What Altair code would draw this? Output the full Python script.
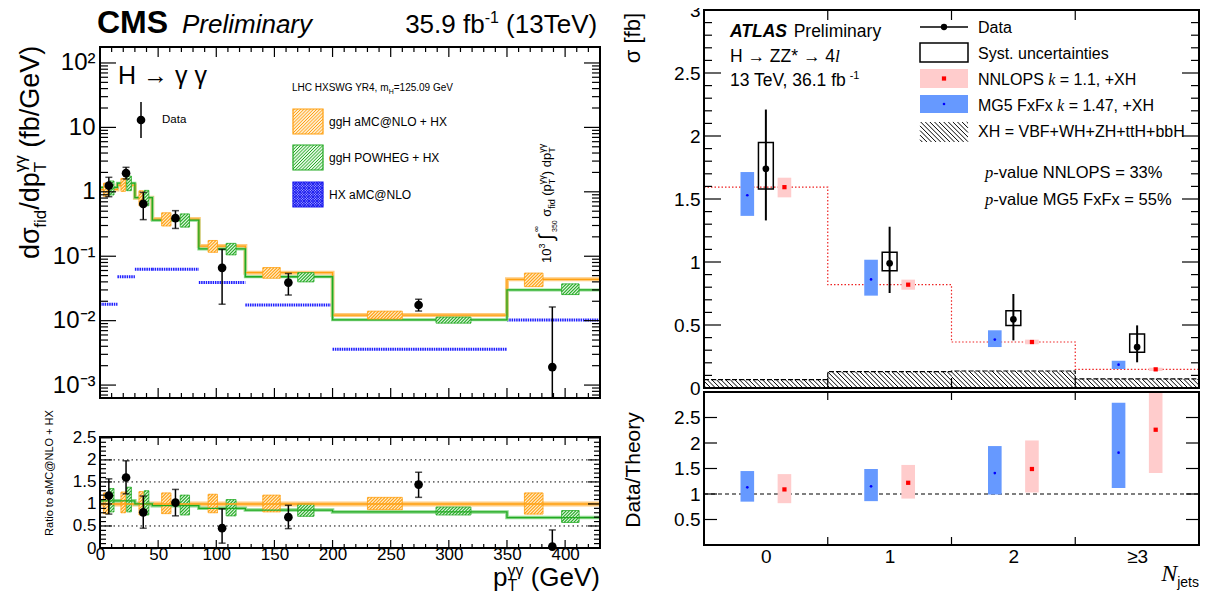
import altair as alt
import numpy as np
import pandas as pd

FONT = "Liberation Sans"
SERIF = "Liberation Serif"

# ---------------- CMS  H -> gamma gamma  (left) ----------------
cms_bin_lo = [0, 15, 30, 45, 85, 125, 200, 350]
cms_bin_hi = [15, 30, 45, 85, 125, 200, 350, 430]
cms_pt = [7.6, 22.4, 37.2, 64.9, 105, 162, 274, 389]
cms_xs = [1.25, 1.95, 0.65, 0.39, 0.066, 0.039, 0.0175, 0.0019]
cms_xs_lo = [0.84, 1.58, 0.37, 0.27, 0.018, 0.025, 0.0141, 0.0001]
cms_xs_hi = [1.68, 2.40, 0.98, 0.51, 0.128, 0.054, 0.0215, 0.0163]
cms_amc = [1.09, 1.27, 0.81, 0.378, 0.144, 0.0556, 0.0122, 0.0438]
cms_powheg = [1.17, 1.36, 0.81, 0.363, 0.130, 0.048, 0.0103, 0.030]
cms_hx = [0.0179, 0.048, 0.063, 0.063, 0.039, 0.0175, 0.0036, 0.0102]
cms_ratio = [1.19, 1.60, 0.81, 1.03, 0.45, 0.70, 1.44, 0.03]
cms_ratio_lo = [0.77, 1.23, 0.45, 0.73, 0.11, 0.44, 1.15, 0.0]
cms_ratio_hi = [1.57, 1.98, 1.18, 1.33, 0.89, 0.97, 1.72, 0.41]
cms_powheg_ratio = [1.07, 1.07, 1.00, 0.96, 0.90, 0.86, 0.82, 0.69]
cms_amc_box_x0 = [3, 18, 33.5, 53, 93, 140, 230, 365]
cms_amc_box_x1 = [7.3, 22, 37.2, 61, 101, 155, 260, 381]
cms_amc_unc_lo = [0.78, 0.80, 0.75, 0.78, 0.80, 0.82, 0.87, 0.77]
cms_amc_unc_hi = [1.25, 1.27, 1.28, 1.25, 1.22, 1.20, 1.15, 1.25]
cms_pow_box_x0 = [8, 23, 38, 69, 108.5, 170, 289, 397]
cms_pow_box_x1 = [12, 27, 42, 77, 117, 184, 319, 412]
cms_pow_unc_lo = [0.82, 0.82, 0.75, 0.75, 0.73, 0.72, 0.75, 0.58]
cms_pow_unc_hi = [1.35, 1.38, 1.30, 1.20, 1.10, 1.00, 0.93, 0.85]

cms_y_labels = [1e-3, 1e-2, 1e-1, 1, 10, 100]
cms_x_labels = [0, 50, 100, 150, 200, 250, 300, 350, 400]
cms_r_labels = [0, 0.5, 1, 1.5, 2, 2.5]
cms_r_grid = [0.5, 1.0, 1.5, 2.0]

# ---------------- ATLAS  H -> ZZ* -> 4l  (right) ----------------
atlas_nj = [0, 1, 2, 3]
atlas_edges = [-0.5, 0.5, 1.5, 2.5, 3.5]
atlas_data = [1.74, 0.99, 0.545, 0.325]
atlas_stat_lo = [1.33, 0.754, 0.378, 0.204]
atlas_stat_hi = [2.21, 1.28, 0.746, 0.497]
atlas_syst_lo = [1.58, 0.931, 0.497, 0.283]
atlas_syst_hi = [1.948, 1.077, 0.614, 0.429]
atlas_mg5 = [1.53, 0.862, 0.384, 0.185]
atlas_mg5_lo = [1.366, 0.733, 0.325, 0.151]
atlas_mg5_hi = [1.714, 1.018, 0.458, 0.217]
atlas_nnlops = [1.594, 0.82, 0.365, 0.148]
atlas_nnlops_lo = [1.513, 0.78, 0.347, 0.135]
atlas_nnlops_hi = [1.669, 0.86, 0.384, 0.161]
atlas_xh = [0.066, 0.13, 0.135, 0.072]
atlas_r_mg5 = [1.13, 1.15, 1.41, 1.81]
atlas_r_mg5_lo = [0.85, 0.86, 0.99, 1.12]
atlas_r_mg5_hi = [1.45, 1.49, 1.94, 2.79]
atlas_r_nnlops = [1.09, 1.22, 1.49, 2.26]
atlas_r_nnlops_lo = [0.82, 0.91, 1.03, 1.41]
atlas_r_nnlops_hi = [1.39, 1.57, 2.05, 3.10]
atlas_y_labels = [0, 0.5, 1, 1.5, 2, 2.5, 3]
atlas_r_labels = [0.5, 1, 1.5, 2, 2.5]
atlas_x_labels = [0, 1, 2, 3]

# ---------------- layout constants (plot-area pixels) ----------------
C_L, C_R = 0, 500
CM_T, CM_B = 37, 388
CR_T, CR_B = 427, 538
A_L, A_R = 604, 1099
AM_T, AM_B = 0, 378
AR_T, AR_B = 382, 535
CX_MAX = 430
CM_DOM = [6.3e-4, 177]
CR_MAX = 2.52
MG5_OFF, NNLO_OFF, BOX_HW, SYST_HW = -0.15, 0.15, 0.055, 0.06
HATCH = 3.2

ONE = pd.DataFrame({"a": [0]})

AW = {' ': .278, '!': .278, '%': .889, '(': .333, ')': .333, '*': .389, '+': .584, ',': .278,
      '-': .333, '.': .278, '/': .278, '=': .584, '@': 1.015, '[': .278, ']': .278,
      'A': .667, 'B': .667, 'C': .722, 'D': .722, 'E': .667, 'F': .611, 'G': .778, 'H': .722,
      'I': .278, 'J': .5, 'K': .667, 'L': .556, 'M': .833, 'N': .722, 'O': .778, 'P': .667,
      'Q': .778, 'R': .722, 'S': .667, 'T': .611, 'U': .722, 'V': .667, 'W': .944, 'X': .667,
      'Y': .667, 'Z': .611, 'a': .556, 'b': .556, 'c': .5, 'd': .556, 'e': .556, 'f': .278,
      'g': .556, 'h': .556, 'i': .222, 'j': .222, 'k': .5, 'l': .222, 'm': .833, 'n': .556,
      'o': .556, 'p': .556, 'q': .556, 'r': .333, 's': .5, 't': .278, 'u': .556, 'v': .5,
      'w': .722, 'x': .5, 'y': .5, 'z': .5, 'σ': .6, 'γ': .5, '∫': .4, '∞': .75, '→': 1.0,
      '≥': .55}
SW = {'N': .667, 'k': .444, 'l': .278, 'p': .5}


def twidth(s, size, bold=False, serif=False):
    w = sum((SW.get(c, .5) if serif else AW.get(c, .556)) for c in s)
    return w * size * (1.06 if bold else 1.0)


def txt(s, x, y, size, align="left", angle=0, font=FONT, style="normal", weight="normal",
        baseline="alphabetic", color="black"):
    return alt.Chart(ONE).mark_text(
        text=s, align=align, baseline=baseline, angle=angle, font=font, fontSize=size,
        fontStyle=style, fontWeight=weight, color=color
    ).encode(x=alt.value(x), y=alt.value(y))


def rich(pieces, x, y, angle=0, align="left"):
    advs = []
    for p in pieces:
        a = p.get("adv")
        if a is None:
            a = twidth(p["t"], p["s"], p.get("weight") == "bold", p.get("font") == SERIF)
        advs.append(a)
    total = sum(advs)
    pos = {"left": 0, "center": -total / 2, "right": -total}[align]
    out = []
    for p, a in zip(pieces, advs):
        dy = p.get("dy", 0)
        t = p["t"]
        stripped = t.lstrip(" ")
        lead = twidth(" " * (len(t) - len(stripped)), p["s"])
        q = pos + lead
        if angle == 0:
            px, py = x + q, y + dy
        else:
            px, py = x + dy, y - q
        out.append(txt(stripped, px, py, p["s"], angle=angle, font=p.get("font", FONT),
                       style=p.get("style", "normal"), weight=p.get("weight", "normal")))
        pos += a
    return out


def P(t, s, **kw):
    d = {"t": t, "s": s}
    d.update(kw)
    return d


def box(x0, x1, y0, y1, fill, stroke=None, sw=1.0, opacity=1.0):
    kw = dict(fill=fill, fillOpacity=opacity)
    if stroke:
        kw.update(stroke=stroke, strokeWidth=sw)
    return alt.Chart(ONE).mark_rect(**kw).encode(
        x=alt.value(x0), x2=alt.value(x1), y=alt.value(y0), y2=alt.value(y1))


def frame(x0, x1, y0, y1, sw=2.0):
    return alt.Chart(ONE).mark_rect(fill="white", fillOpacity=0, stroke="black", strokeWidth=sw).encode(
        x=alt.value(x0), x2=alt.value(x1), y=alt.value(y0), y2=alt.value(y1))


def yticks(vals, Yf, xl, xr, length, sw=1.2):
    df = pd.DataFrame({"v": vals})
    return [
        alt.Chart(df).mark_rule(color="black", strokeWidth=sw).encode(
            x=alt.value(xl), x2=alt.value(xl + length), y=Yf("v")),
        alt.Chart(df).mark_rule(color="black", strokeWidth=sw).encode(
            x=alt.value(xr - length), x2=alt.value(xr), y=Yf("v")),
    ]


def xticks(vals, Xf, yt, yb, length, sw=1.2):
    df = pd.DataFrame({"v": vals})
    return [
        alt.Chart(df).mark_rule(color="black", strokeWidth=sw).encode(
            x=Xf("v"), y=alt.value(yb - length), y2=alt.value(yb)),
        alt.Chart(df).mark_rule(color="black", strokeWidth=sw).encode(
            x=Xf("v"), y=alt.value(yt), y2=alt.value(yt + length)),
    ]


def ax(**kw):
    base = dict(ticks=False, domain=False, grid=False, title=None, labelFont=FONT,
                labelColor="black", labelOverlap=False, labelFlush=False)
    base.update(kw)
    return alt.Axis(**base)


def hatch_px(x0, x1, yt, yb, spacing, forward=True):
    """Diagonal hatch segments (pixel space) inside the rectangle; '/' if forward else '\\'."""
    h = yb - yt
    segs = []
    s = x0 - h + spacing / 2
    while s < x1:
        xa, xb = max(s, x0), min(s + h, x1)
        if xb > xa:
            if forward:
                segs.append((xa, yb - (xa - s), xb, yb - (xb - s)))
            else:
                segs.append((xa, yt + (xa - s), xb, yt + (xb - s)))
        s += spacing
    return segs


# pixel <-> data helpers for the CMS scales (same constants as the scales below)
L0, L1 = np.log10(CM_DOM[0]), np.log10(CM_DOM[1])
def cx_px(v): return C_L + v / CX_MAX * (C_R - C_L)
def cx_inv(p): return (p - C_L) / (C_R - C_L) * CX_MAX
def cm_px(v): return CM_B - (np.log10(v) - L0) / (L1 - L0) * (CM_B - CM_T)
def cm_inv(p): return 10 ** (L0 + (CM_B - p) / (CM_B - CM_T) * (L1 - L0))
def cr_px(v): return CR_B - v / CR_MAX * (CR_B - CR_T)
def cr_inv(p): return (CR_B - p) / (CR_B - CR_T) * CR_MAX


def hatch_data(x0s, x1s, lo, hi, ypx, yinv):
    rows = []
    for a, b, l, h in zip(x0s, x1s, lo, hi):
        for xa, ya, xb, yb in hatch_px(cx_px(a), cx_px(b), ypx(h), ypx(l), HATCH):
            rows.append({"xa": cx_inv(xa), "xb": cx_inv(xb), "ya": yinv(ya), "yb": yinv(yb)})
    return pd.DataFrame(rows)


def legend_hatch(x0, x1, y0, y1, color, spacing, forward=True, sw=1.0):
    rows = [{"xa": a, "ya": b, "xb": c, "yb": d} for a, b, c, d in hatch_px(x0, x1, y0, y1, spacing, forward)]
    return alt.Chart(pd.DataFrame(rows)).mark_rule(color=color, strokeWidth=sw).encode(
        x=alt.X("xa", type="quantitative", scale=None, axis=None), x2="xb",
        y=alt.Y("ya", type="quantitative", scale=None, axis=None), y2="yb")


# tick positions
cms_y_minor = [m * 10.0 ** k for k in range(-4, 3) for m in range(2, 10)
               if CM_DOM[0] < m * 10.0 ** k < CM_DOM[1]]
cms_x_minor = [v for v in range(10, 430, 10) if v % 50]
cms_r_minor = [round(0.1 * i, 1) for i in range(1, 26) if i % 5]
atlas_y_minor = [round(0.1 * i, 1) for i in range(1, 30) if i % 5]
atlas_x_ticks = [0.5, 1.5, 2.5]

ORANGE, ORANGE_L, ORANGE_BG = "#ffa010", "#ffcc80", "#ffeccc"
GREEN, GREEN_L, GREEN_BG = "#22aa22", "#8fd98f", "#e2f5e2"

# ================= CMS main panel =================
cx_scale = alt.Scale(domain=[0, CX_MAX], range=[C_L, C_R], nice=False, zero=False)
cm_y_scale = alt.Scale(type="log", domain=CM_DOM, range=[CM_B, CM_T], clamp=True, nice=False)
cm_y_axis = ax(orient="left", offset=0, values=cms_y_labels, labelFontSize=24, labelPadding=5,
               labelExpr="datum.value < 0.005 ? '10⁻³' : datum.value < 0.05 ? '10⁻²' : "
                         "datum.value < 0.5 ? '10⁻¹' : datum.value < 5 ? '1' : "
                         "datum.value < 50 ? '10' : '10²'")


def cmx(f):
    return alt.X(f, type="quantitative", scale=cx_scale, axis=None)


def cmy(f):
    return alt.Y(f, type="quantitative", scale=cm_y_scale, axis=cm_y_axis)


cms_df = pd.DataFrame({
    "lo": cms_bin_lo, "hi": cms_bin_hi, "pt": cms_pt, "xs": cms_xs, "elo": cms_xs_lo,
    "ehi": cms_xs_hi, "amc": cms_amc, "hx": cms_hx,
    "ax0": cms_amc_box_x0, "ax1": cms_amc_box_x1, "aulo": cms_amc_unc_lo, "auhi": cms_amc_unc_hi,
    "px0": cms_pow_box_x0, "px1": cms_pow_box_x1, "pulo": cms_pow_unc_lo, "puhi": cms_pow_unc_hi,
    "r": cms_ratio, "rlo": cms_ratio_lo, "rhi": cms_ratio_hi,
})
# uncertainty boxes on the absolute scale (relative uncertainty times aMC@NLO prediction)
cms_df["ab0"] = cms_df["amc"] * cms_df["aulo"]
cms_df["ab1"] = cms_df["amc"] * cms_df["auhi"]
cms_df["pb0"] = cms_df["amc"] * cms_df["pulo"]
cms_df["pb1"] = cms_df["amc"] * cms_df["puhi"]

step_amc = pd.DataFrame({"x": cms_bin_lo + [cms_bin_hi[-1]], "y": cms_amc + [cms_amc[-1]]})
step_pow = pd.DataFrame({"x": cms_bin_lo + [cms_bin_hi[-1]], "y": cms_powheg + [cms_powheg[-1]]})
step_powr = pd.DataFrame({"x": cms_bin_lo + [cms_bin_hi[-1]],
                          "y": cms_powheg_ratio + [cms_powheg_ratio[-1]]})
cbase = alt.Chart(cms_df)

h_amc_main = hatch_data(cms_df.ax0, cms_df.ax1, cms_df.ab0, cms_df.ab1, cm_px, cm_inv)
h_pow_main = hatch_data(cms_df.px0, cms_df.px1, cms_df.pb0, cms_df.pb1, cm_px, cm_inv)
h_amc_rat = hatch_data(cms_df.ax0, cms_df.ax1, cms_df.aulo, cms_df.auhi, cr_px, cr_inv)
h_pow_rat = hatch_data(cms_df.px0, cms_df.px1, cms_df.pulo, cms_df.puhi, cr_px, cr_inv)


def hatch_layer(df, X, Y, color):
    return alt.Chart(df).mark_rule(color=color, strokeWidth=1.1).encode(
        x=X("xa"), x2="xb", y=Y("ya"), y2="yb")


cms_main = alt.layer(
    cbase.mark_rule(color="#1f1fff", strokeWidth=3, strokeDash=[1.5, 0.8]).encode(
        x=cmx("lo"), x2="hi", y=cmy("hx")),
    alt.Chart(step_amc).mark_line(interpolate="step-after", color=ORANGE_L, strokeWidth=4).encode(
        x=cmx("x"), y=cmy("y")),
    alt.Chart(step_pow).mark_line(interpolate="step-after", color=GREEN_L, strokeWidth=3).encode(
        x=cmx("x"), y=cmy("y")),
    alt.Chart(step_amc).mark_line(interpolate="step-after", color=ORANGE, strokeWidth=1.3).encode(
        x=cmx("x"), y=cmy("y")),
    alt.Chart(step_pow).mark_line(interpolate="step-after", color=GREEN, strokeWidth=1.3).encode(
        x=cmx("x"), y=cmy("y")),
    cbase.mark_rect(fill=ORANGE_BG, stroke=ORANGE, strokeWidth=0.8).encode(
        x=cmx("ax0"), x2="ax1", y=cmy("ab0"), y2="ab1"),
    hatch_layer(h_amc_main, cmx, cmy, ORANGE),
    cbase.mark_rect(fill=GREEN_BG, stroke=GREEN, strokeWidth=0.8).encode(
        x=cmx("px0"), x2="px1", y=cmy("pb0"), y2="pb1"),
    hatch_layer(h_pow_main, cmx, cmy, GREEN),
    cbase.mark_rule(color="black", strokeWidth=1.5).encode(x=cmx("pt"), y=cmy("elo"), y2="ehi"),
    cbase.mark_tick(orient="horizontal", size=7, thickness=1.5, color="black").encode(
        x=cmx("pt"), y=cmy("ehi")),
    cbase.mark_tick(orient="horizontal", size=7, thickness=1.5, color="black").encode(
        x=cmx("pt"), y=cmy("elo")),
    cbase.mark_point(filled=True, size=75, color="black", opacity=1).encode(x=cmx("pt"), y=cmy("xs")),
    frame(C_L, C_R, CM_T, CM_B),
    *yticks(cms_y_labels, cmy, C_L, C_R, 16),
    *yticks(cms_y_minor, cmy, C_L, C_R, 8),
    *xticks(cms_x_labels, cmx, CM_T, CM_B, 10),
    *xticks(cms_x_minor, cmx, CM_T, CM_B, 5),
)

# ================= CMS ratio panel =================
cr_x_axis = ax(orient="bottom", offset=0, values=cms_x_labels, format="d", labelFontSize=17,
               labelPadding=-2)
cr_y_scale = alt.Scale(domain=[0, CR_MAX], range=[CR_B, CR_T], clamp=True, nice=False, zero=False)
cr_y_axis = ax(orient="left", offset=0, values=cms_r_labels, format="~g", labelFontSize=17,
               labelPadding=4)


def crx(f):
    return alt.X(f, type="quantitative", scale=cx_scale, axis=cr_x_axis)


def cry(f):
    return alt.Y(f, type="quantitative", scale=cr_y_scale, axis=cr_y_axis)


unity = pd.DataFrame({"v": [1.0]})
cms_ratio_panel = alt.layer(
    alt.Chart(pd.DataFrame({"v": cms_r_grid})).mark_rule(color="black", strokeWidth=1, strokeDash=[1.5, 3]).encode(
        x=alt.value(C_L), x2=alt.value(C_R), y=cry("v")),
    alt.Chart(unity).mark_rule(color=ORANGE_L, strokeWidth=5).encode(
        x=alt.value(C_L), x2=alt.value(C_R), y=cry("v")),
    alt.Chart(step_powr).mark_line(interpolate="step-after", color=GREEN_L, strokeWidth=3.5).encode(
        x=crx("x"), y=cry("y")),
    cbase.mark_rect(fill=ORANGE_BG, stroke=ORANGE, strokeWidth=0.8).encode(
        x=crx("ax0"), x2="ax1", y=cry("aulo"), y2="auhi"),
    hatch_layer(h_amc_rat, crx, cry, ORANGE),
    cbase.mark_rect(fill=GREEN_BG, stroke=GREEN, strokeWidth=0.8).encode(
        x=crx("px0"), x2="px1", y=cry("pulo"), y2="puhi"),
    hatch_layer(h_pow_rat, crx, cry, GREEN),
    alt.Chart(unity).mark_rule(color=ORANGE, strokeWidth=1.5).encode(
        x=alt.value(C_L), x2=alt.value(C_R), y=cry("v")),
    alt.Chart(step_powr).mark_line(interpolate="step-after", color=GREEN, strokeWidth=1.3).encode(
        x=crx("x"), y=cry("y")),
    cbase.mark_rule(color="black", strokeWidth=1.5).encode(x=crx("pt"), y=cry("rlo"), y2="rhi"),
    cbase.mark_tick(orient="horizontal", size=7, thickness=1.5, color="black").encode(
        x=crx("pt"), y=cry("rhi")),
    cbase.mark_tick(orient="horizontal", size=7, thickness=1.5, color="black").encode(
        x=crx("pt"), y=cry("rlo")),
    cbase.mark_point(filled=True, size=75, color="black", opacity=1).encode(x=crx("pt"), y=cry("r")),
    frame(C_L, C_R, CR_T, CR_B),
    *yticks([0.5, 1.0, 1.5, 2.0, 2.5], cry, C_L, C_R, 12),
    *yticks(cms_r_minor, cry, C_L, C_R, 6),
    *xticks(cms_x_labels, crx, CR_T, CR_B, 8),
    *xticks(cms_x_minor, crx, CR_T, CR_B, 4),
)

# ================= ATLAS main panel =================
ax_scale = alt.Scale(domain=[-0.5, 3.5], range=[A_L, A_R], nice=False, zero=False)
am_y_scale = alt.Scale(domain=[0, 3], range=[AM_B, AM_T], clamp=True, nice=False, zero=False)
am_y_axis = ax(orient="left", offset=-A_L, values=atlas_y_labels, format="~g", labelFontSize=19,
               labelPadding=4)


def amx(f):
    return alt.X(f, type="quantitative", scale=ax_scale, axis=None)


def amy(f):
    return alt.Y(f, type="quantitative", scale=am_y_scale, axis=am_y_axis)


atlas_df = pd.DataFrame({
    "nj": atlas_nj, "d": atlas_data, "slo": atlas_stat_lo, "shi": atlas_stat_hi,
    "ylo": atlas_syst_lo, "yhi": atlas_syst_hi,
    "m": atlas_mg5, "mlo": atlas_mg5_lo, "mhi": atlas_mg5_hi,
    "n": atlas_nnlops, "nlo": atlas_nnlops_lo, "nhi": atlas_nnlops_hi,
    "rm": atlas_r_mg5, "rmlo": atlas_r_mg5_lo, "rmhi": atlas_r_mg5_hi,
    "rn": atlas_r_nnlops, "rnlo": atlas_r_nnlops_lo, "rnhi": atlas_r_nnlops_hi,
})
abase = alt.Chart(atlas_df).transform_calculate(
    xm=f"datum.nj + ({MG5_OFF})",
    xm0=f"datum.nj + ({MG5_OFF}) - {BOX_HW}", xm1=f"datum.nj + ({MG5_OFF}) + {BOX_HW}",
    xn=f"datum.nj + ({NNLO_OFF})",
    xn0=f"datum.nj + ({NNLO_OFF}) - {BOX_HW}", xn1=f"datum.nj + ({NNLO_OFF}) + {BOX_HW}",
    xs0=f"datum.nj - {SYST_HW}", xs1=f"datum.nj + {SYST_HW}",
)

# hatch lines for XH ('\' at 45 degrees in pixel space)
px_x = (A_R - A_L) / 4.0
px_y = (AM_B - AM_T) / 3.0
rows = []
for e0, e1, h in zip(atlas_edges[:-1], atlas_edges[1:], atlas_xh):
    for xa, ya, xb, yb in hatch_px(A_L + (e0 + 0.5) * px_x, A_L + (e1 + 0.5) * px_x,
                                   AM_B - h * px_y, AM_B, 4.6, forward=False):
        rows.append({"xa": (xa - A_L) / px_x - 0.5, "xb": (xb - A_L) / px_x - 0.5,
                     "ya": (AM_B - ya) / px_y, "yb": (AM_B - yb) / px_y})
hatch_df = pd.DataFrame(rows)
xh_step = pd.DataFrame({"x": atlas_edges, "y": atlas_xh + [atlas_xh[-1]]})
nn_step = pd.DataFrame({"x": atlas_edges, "y": atlas_nnlops + [atlas_nnlops[-1]]})

BLUE_F, PINK_F = "#6699ff", "#ffcccc"

atlas_main = alt.layer(
    alt.Chart(hatch_df).mark_rule(color="black", strokeWidth=1).encode(
        x=amx("xa"), x2="xb", y=amy("ya"), y2="yb"),
    alt.Chart(xh_step).mark_line(interpolate="step-after", color="black", strokeWidth=1.2,
                                 strokeDash=[5, 2]).encode(x=amx("x"), y=amy("y")),
    alt.Chart(nn_step).mark_line(interpolate="step-after", color="#ee2222", strokeWidth=1.2,
                                 strokeDash=[1.5, 2]).encode(x=amx("x"), y=amy("y")),
    abase.mark_rect(fill=BLUE_F).encode(x=amx("xm0"), x2="xm1", y=amy("mlo"), y2="mhi"),
    abase.mark_point(filled=True, size=7, color="#0000ff", opacity=1).encode(x=amx("xm"), y=amy("m")),
    abase.mark_rect(fill=PINK_F).encode(x=amx("xn0"), x2="xn1", y=amy("nlo"), y2="nhi"),
    abase.mark_point(filled=True, shape="square", size=18, color="#ff0000", opacity=1).encode(
        x=amx("xn"), y=amy("n")),
    abase.mark_rect(fill="white", fillOpacity=0, stroke="black", strokeWidth=1.5).encode(
        x=amx("xs0"), x2="xs1", y=amy("ylo"), y2="yhi"),
    abase.mark_rule(color="black", strokeWidth=2).encode(x=amx("nj"), y=amy("slo"), y2="shi"),
    abase.mark_point(filled=True, size=45, color="black", opacity=1).encode(x=amx("nj"), y=amy("d")),
    frame(A_L, A_R, AM_T, AM_B),
    *yticks([0.5, 1, 1.5, 2, 2.5], amy, A_L, A_R, 17),
    *yticks(atlas_y_minor, amy, A_L, A_R, 8),
    *xticks(atlas_x_ticks, amx, AM_T, AM_B, 10),
)

# ================= ATLAS ratio panel =================
ar_y_scale = alt.Scale(domain=[0, 3], range=[AR_B, AR_T], clamp=True, nice=False, zero=False)
ar_y_axis = ax(orient="left", offset=-A_L, values=atlas_r_labels, format="~g", labelFontSize=19,
               labelPadding=4)
ar_x_axis = ax(orient="bottom", offset=-(CR_B - AR_B), values=atlas_x_labels, labelFontSize=19,
               labelPadding=2, labelExpr="datum.value == 3 ? '≥3' : format(datum.value, 'd')")


def arx(f):
    return alt.X(f, type="quantitative", scale=ax_scale, axis=ar_x_axis)


def ary(f):
    return alt.Y(f, type="quantitative", scale=ar_y_scale, axis=ar_y_axis)


atlas_ratio_panel = alt.layer(
    alt.Chart(unity).mark_rule(color="black", strokeWidth=1.2, strokeDash=[4, 3]).encode(
        x=alt.value(A_L), x2=alt.value(A_R), y=ary("v")),
    abase.mark_rect(fill=BLUE_F).encode(x=arx("xm0"), x2="xm1", y=ary("rmlo"), y2="rmhi"),
    abase.mark_point(filled=True, size=7, color="#0000ff", opacity=1).encode(x=arx("xm"), y=ary("rm")),
    abase.mark_rect(fill=PINK_F).encode(x=arx("xn0"), x2="xn1", y=ary("rnlo"), y2="rnhi"),
    abase.mark_point(filled=True, shape="square", size=18, color="#ff0000", opacity=1).encode(
        x=arx("xn"), y=ary("rn")),
    frame(A_L, A_R, AR_T, AR_B),
    *yticks([0.5, 1, 1.5, 2, 2.5], ary, A_L, A_R, 13),
    *xticks(atlas_x_ticks, arx, AR_T, AR_B, 8),
)

# ================= annotations =================
ann = []
# CMS header
ann += rich([P("CMS", 32, weight="bold")], -3, 23)
ann.append(txt("Preliminary", 82, 23, 26, style="italic"))
ann += rich([P("35.9 fb", 26), P("-1", 16, dy=-10), P(" (13TeV)", 26)], 500, 23, align="right")
ann.append(txt("H → γ γ", 18, 74, 25))
# CMS legend
ann.append(alt.Chart(ONE).mark_rule(color="black", strokeWidth=1.5).encode(
    x=alt.value(41), y=alt.value(92), y2=alt.value(128)))
ann.append(alt.Chart(ONE).mark_point(filled=True, size=75, color="black", opacity=1).encode(
    x=alt.value(41), y=alt.value(110)))
ann.append(txt("Data", 62, 110, 11.5, baseline="middle"))
ann += rich([P("LHC HXSWG YR4, m", 10), P("H", 7, dy=3), P("=125.09 GeV", 10)], 192, 81)
ann.append(box(193, 223, 99, 124, ORANGE_BG, ORANGE, 1.2))
ann.append(legend_hatch(193, 223, 99, 124, ORANGE, HATCH))
ann.append(box(193, 223, 135, 160, GREEN_BG, GREEN, 1.2))
ann.append(legend_hatch(193, 223, 135, 160, GREEN, HATCH))
ann.append(box(193, 223, 172, 197, "#9a9aff", "#2222ee", 1.2))
ann.append(legend_hatch(193, 223, 172, 197, "#1515ee", 2.6))
ann.append(legend_hatch(193, 223, 172, 197, "#1515ee", 2.6, forward=False))
ann.append(txt("ggH aMC@NLO + HX", 229, 111.5, 12, baseline="middle"))
ann.append(txt("ggH POWHEG + HX", 229, 147.5, 12, baseline="middle"))
ann.append(txt("HX aMC@NLO", 229, 184.5, 12, baseline="middle"))
# vertical integral label
ann += rich([P("10", 13), P("3", 9, dy=-6), P(" ", 13), P("∫", 20, dy=2), P("∞", 8, dy=-12, adv=0),
             P("350", 7, dy=6), P(" σ", 13), P("fid", 9, dy=4), P(" (p", 13), P("T", 9, dy=4, adv=0),
             P("γγ", 9, dy=-6), P(")", 13), P(" dp", 13), P("T", 9, dy=4, adv=0), P("γγ", 9, dy=-6)],
            451, 253, angle=270)
# CMS axis titles
ann += rich([P("dσ", 27), P("fid", 17, dy=7), P("/dp", 27), P("T", 17, dy=7, adv=0),
             P("γγ", 17, dy=-13), P(" (fb/GeV)", 27)], -61, 249, angle=270)
ann.append(txt("Ratio to aMC@NLO + HX", -47, 463, 11, align="center", angle=270))
ann += rich([P("p", 26), P("T", 16, dy=5, adv=0), P("γγ", 16, dy=-10), P(" (GeV)", 26)],
            500, 576, align="right")

# ATLAS header
ann += rich([P("ATLAS", 17.5, weight="bold", style="italic"), P(" Preliminary", 17.5)], 630, 27)
ann += rich([P("H → ZZ* → 4", 17.5), P("l", 17.5, font=SERIF, style="italic")], 630, 52)
ann += rich([P("13 TeV, 36.1 fb", 17.5), P("-1", 11, dy=-7)], 630, 76)
# ATLAS legend
ann.append(alt.Chart(ONE).mark_rule(color="black", strokeWidth=1.5).encode(
    x=alt.value(820), x2=alt.value(868), y=alt.value(17)))
ann.append(alt.Chart(ONE).mark_point(filled=True, size=40, color="black", opacity=1).encode(
    x=alt.value(844), y=alt.value(17)))
ann.append(txt("Data", 878, 23, 16))
ann.append(box(820, 868, 33, 52, "white", "black", 1.5))
ann.append(txt("Syst. uncertainties", 878, 49, 16))
ann.append(box(820, 868, 59, 78, PINK_F))
ann.append(alt.Chart(ONE).mark_point(filled=True, shape="square", size=18, color="#ff0000", opacity=1).encode(
    x=alt.value(844), y=alt.value(68.5)))
ann += rich([P("NNLOPS ", 16), P("k", 16, font=SERIF, style="italic"), P(" = 1.1, +XH", 16)], 878, 75)
ann.append(box(820, 868, 85, 103, BLUE_F))
ann.append(alt.Chart(ONE).mark_point(filled=True, size=7, color="#0000ff", opacity=1).encode(
    x=alt.value(844), y=alt.value(94)))
ann += rich([P("MG5 FxFx ", 16), P("k", 16, font=SERIF, style="italic"), P(" = 1.47, +XH", 16)], 878, 101)
ann.append(legend_hatch(820, 868, 112, 132, "black", 4.6, forward=False))
ann.append(txt("XH = VBF+WH+ZH+ttH+bbH", 878, 127, 16))
ann += rich([P("p", 16.5, font=SERIF, style="italic"), P("-value NNLOPS = 33%", 16.5)], 885, 168)
ann += rich([P("p", 16.5, font=SERIF, style="italic"), P("-value MG5 FxFx = 55%", 16.5)], 885, 195)
# ATLAS axis titles
ann.append(txt("σ [fb]", 540, 3, 22, align="right", angle=270))
ann.append(txt("Data/Theory", 540, 460, 21, align="center", angle=270))
ann += rich([P("N", 24, font=SERIF, style="italic"), P("jets", 14, dy=6)], 1099, 571, align="right")

chart = alt.layer(
    cms_main, cms_ratio_panel, atlas_main, atlas_ratio_panel, *ann
).resolve_scale(
    x="independent", y="independent"
).properties(
    width=1099, height=538,
    autosize=alt.AutoSizeParams(type="none"),
    padding={"left": 92, "top": 2, "right": 2, "bottom": 43},
    background="white",
).configure_view(stroke=None).configure_axis(labelFont=FONT, labelColor="black")

chart.save("out.html", embed_options={"renderer": "svg", "actions": False})
